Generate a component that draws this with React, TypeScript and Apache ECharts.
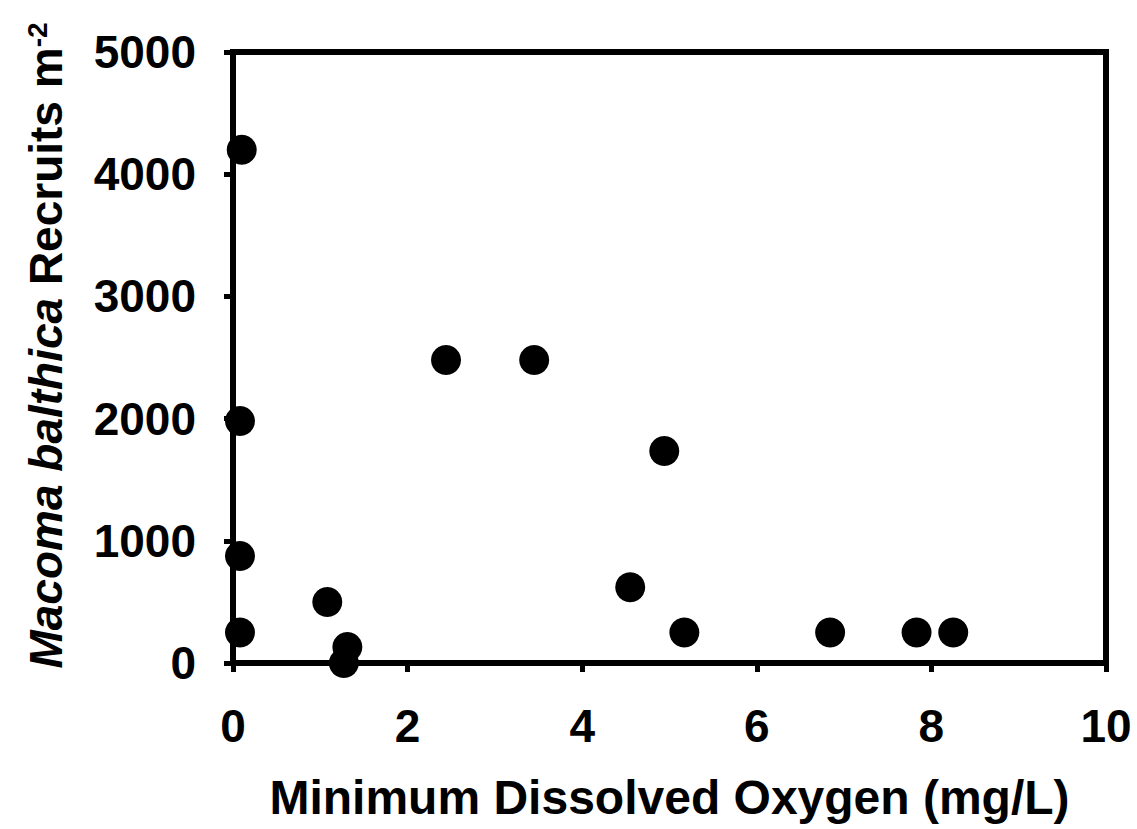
import React, { useEffect, useRef } from "react";
import * as echarts from "echarts";

const xValues = [0.1, 0.08, 0.08, 0.08, 1.08, 1.31, 1.27, 2.44, 3.45, 4.55, 4.94, 5.17, 6.84, 7.83, 8.25];
const yValues = [4200, 1980, 875, 250, 500, 130, 0, 2480, 2480, 620, 1735, 250, 250, 250, 250];
const xTicks = [0, 2, 4, 6, 8, 10];
const yTicks = [0, 1000, 2000, 3000, 4000, 5000];

const FONT = "'Liberation Sans', Arial, Helvetica, sans-serif";

export default function App() {
  const ref = useRef<HTMLDivElement>(null);
  useEffect(() => {
    if (!ref.current) return;
    const chart = echarts.init(ref.current, null, { renderer: "svg" });
    const data = xValues.map((x, i) => [x, yValues[i]]);
    chart.setOption({
      animation: false,
      backgroundColor: "#ffffff",
      grid: {
        left: 233,
        right: 31,
        top: 52,
        bottom: 166,
        show: true,
        borderColor: "#000",
        borderWidth: 6,
        backgroundColor: "transparent",
      },
      xAxis: {
        type: "value",
        min: xTicks[0],
        max: xTicks[xTicks.length - 1],
        interval: 2,
        name: "Minimum Dissolved Oxygen (mg/L)",
        nameLocation: "middle",
        nameGap: 110,
        nameTextStyle: { fontFamily: FONT, fontWeight: "bold", fontSize: 48, color: "#000" },
        axisLine: { show: true, onZero: false, lineStyle: { color: "#000", width: 6 } },
        axisTick: { show: true, inside: false, length: 9, lineStyle: { color: "#000", width: 5 } },
        axisLabel: { fontFamily: FONT, fontWeight: "bold", fontSize: 46, color: "#000", margin: 40 },
        splitLine: { show: false },
      },
      yAxis: {
        type: "value",
        min: yTicks[0],
        max: yTicks[yTicks.length - 1],
        interval: 1000,
        name: "{i|Macoma balthica} {b|Recruits m}{s|-2}",
        nameLocation: "middle",
        nameRotate: 90,
        nameGap: 164,
        nameTextStyle: {
          fontFamily: FONT,
          fontWeight: "bold",
          fontSize: 46,
          color: "#000",
          padding: [0, 0, 0, 24],
          rich: {
            i: { fontFamily: FONT, fontWeight: "bold", fontStyle: "italic", fontSize: 46, color: "#000" },
            b: { fontFamily: FONT, fontWeight: "bold", fontSize: 46, color: "#000" },
            s: { fontFamily: FONT, fontWeight: "bold", fontSize: 28, color: "#000", verticalAlign: "top" },
          },
        },
        axisLine: { show: true, onZero: false, lineStyle: { color: "#000", width: 6 } },
        axisTick: { show: true, inside: false, length: 9, lineStyle: { color: "#000", width: 5 } },
        axisLabel: {
          fontFamily: FONT,
          fontWeight: "bold",
          fontSize: 46,
          color: "#000",
          margin: 37,
          formatter: (v: number) => String(v),
        },
        splitLine: { show: false },
      },
      series: [
        {
          type: "scatter",
          data,
          symbol: "circle",
          symbolSize: 30,
          itemStyle: { color: "#000", opacity: 1 },
        },
      ],
    });
    return () => chart.dispose();
  }, []);
  return <div ref={ref} style={{ width: 1137, height: 829, position: "absolute", left: 0, top: 0 }} />;
}
